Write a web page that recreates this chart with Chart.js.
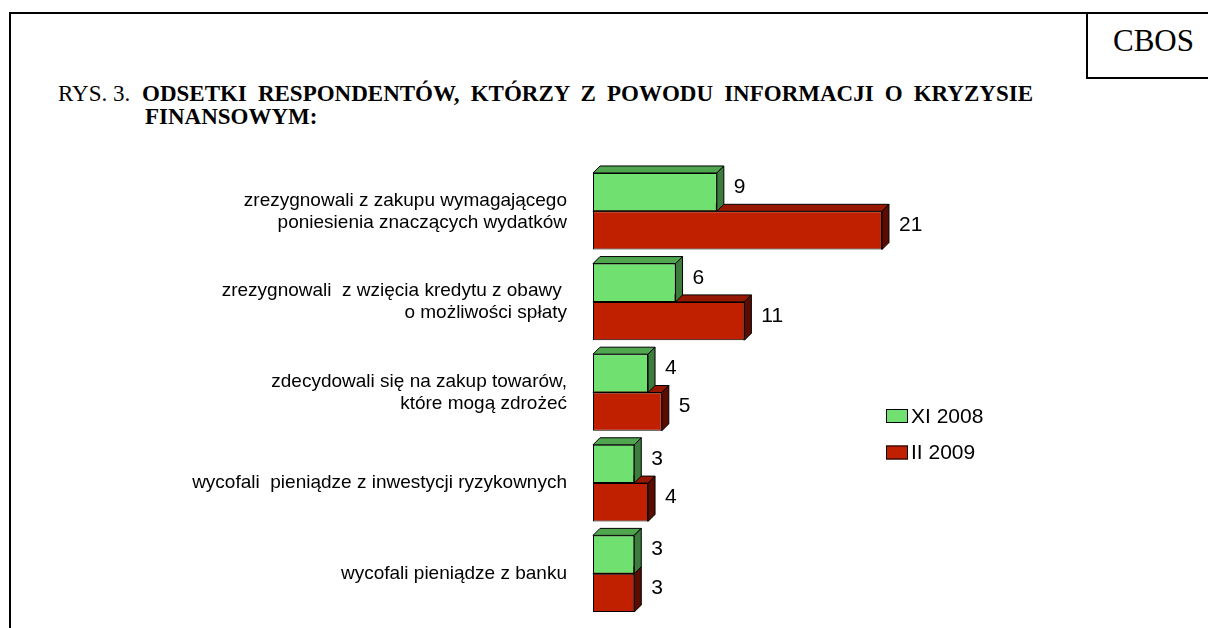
<!DOCTYPE html>
<html>
<head>
<meta charset="utf-8">
<script src="https://cdn.jsdelivr.net/npm/chart.js@4"></script>
<style>
  html, body { margin: 0; padding: 0; background: #fff; }
  body { width: 1208px; height: 628px; position: relative; overflow: hidden; }
  .frame-left { position: absolute; left: 9px; top: 12px; width: 2px; height: 616px; background: #000; }
  .frame-top { position: absolute; left: 9px; top: 12px; width: 1199px; height: 2px; background: #000; }
  .cbos { position: absolute; left: 1086px; top: 12px; width: 130px; height: 65px;
          border-left: 2px solid #000; border-bottom: 2px solid #000; }
  .cbos span { position: absolute; left: 25px; top: 14px; font: 31px/30px "Liberation Serif", serif; }
  .title { position: absolute; font: 23px/23px "Liberation Serif", serif; color: #000; white-space: nowrap; }
  .title b { font-weight: bold; }
  #rys { left: 58px; top: 82px; }
  #line1 { left: 142px; top: 82px; width: 891px; text-align: justify; text-align-last: justify; }
  #line2 { left: 145px; top: 105px; }
  #chart { position: absolute; left: 0; top: 0; }
</style>
</head>
<body>
<div class="frame-left"></div>
<div class="frame-top"></div>
<div class="cbos"><span>CBOS</span></div>
<div class="title" id="rys">RYS. 3.</div>
<div class="title" id="line1"><b>ODSETKI RESPONDENTÓW, KTÓRZY Z POWODU INFORMACJI O KRYZYSIE</b></div>
<div class="title" id="line2"><b>FINANSOWYM:</b></div>
<canvas id="chart" width="1208" height="628"></canvas>
<script>
const categories = [
  ["zrezygnowali z zakupu wymagającego", "poniesienia znaczących wydatków"],
  ["zrezygnowali  z wzięcia kredytu z obawy ", "o możliwości spłaty"],
  ["zdecydowali się na zakup towarów,", "które mogą zdrożeć"],
  "wycofali  pieniądze z inwestycji ryzykownych",
  "wycofali pieniądze z banku",
];
const seriesNames = ["XI 2008", "II 2009"];
const valuesNov2008 = [9, 6, 4, 3, 3];
const valuesFeb2009 = [21, 11, 5, 4, 3];

const DEPTH = 7;

// draws the top and side faces so the bars look like the 3D ones of the original
const bar3d = {
  id: "bar3d",
  afterDatasetDraw(chart, args) {
    const ds = chart.data.datasets[args.index];
    const ctx = chart.ctx;
    args.meta.data.forEach((bar) => {
      const left = bar.base;
      const right = bar.x;
      const top = bar.y - bar.height / 2;
      const bottom = bar.y + bar.height / 2;
      ctx.save();
      ctx.lineWidth = 1;
      ctx.strokeStyle = "#000";
      ctx.lineJoin = "round";

      ctx.beginPath();
      ctx.moveTo(left, top);
      ctx.lineTo(left + DEPTH, top - DEPTH);
      ctx.lineTo(right + DEPTH, top - DEPTH);
      ctx.lineTo(right, top);
      ctx.closePath();
      ctx.fillStyle = ds.topColor;
      ctx.fill();
      ctx.stroke();

      ctx.beginPath();
      ctx.moveTo(right, top);
      ctx.lineTo(right + DEPTH, top - DEPTH);
      ctx.lineTo(right + DEPTH, bottom - DEPTH);
      ctx.lineTo(right, bottom);
      ctx.closePath();
      ctx.fillStyle = ds.sideColor;
      ctx.fill();
      ctx.stroke();
      ctx.restore();
    });
  },
  afterDatasetsDraw(chart) {
    const ctx = chart.ctx;
    ctx.save();
    ctx.font = '21px "Liberation Sans", Arial, sans-serif';
    ctx.fillStyle = "#000";
    ctx.textAlign = "left";
    ctx.textBaseline = "middle";
    chart.data.datasets.forEach((ds, i) => {
      chart.getDatasetMeta(i).data.forEach((bar, j) => {
        ctx.fillText(String(ds.data[j]), bar.x + DEPTH + 10, bar.y - 5);
      });
    });
    ctx.restore();
  },
};

// legend drawn by hand, to the right of the bars
const sideLegend = {
  id: "sideLegend",
  afterDraw(chart) {
    const ctx = chart.ctx;
    ctx.save();
    ctx.font = '21px "Liberation Sans", Arial, sans-serif';
    ctx.textBaseline = "middle";
    chart.data.datasets.forEach((ds, i) => {
      const x = 886;
      const y = 409 + i * 36.5;
      ctx.fillStyle = ds.backgroundColor;
      ctx.fillRect(x, y, 22, 14);
      ctx.strokeStyle = "#000";
      ctx.lineWidth = 1;
      ctx.strokeRect(x + 0.5, y + 0.5, 21, 13);
      ctx.fillStyle = "#000";
      ctx.fillText(ds.label, x + 25, y + 8);
    });
    ctx.restore();
  },
};

const ctx = document.getElementById("chart").getContext("2d");

new Chart(ctx, {
  type: "bar",
  data: {
    labels: categories,
    datasets: [
      {
        label: seriesNames[0],
        data: valuesNov2008,
        backgroundColor: "#70e070",
        topColor: "#4fa64f",
        sideColor: "#3c7c3c",
        borderColor: "#000",
        borderWidth: 1,
        borderSkipped: false,
      },
      {
        label: seriesNames[1],
        data: valuesFeb2009,
        backgroundColor: "#c02000",
        topColor: "#971800",
        sideColor: "#5a0c00",
        borderColor: "#000",
        borderWidth: 1,
        borderSkipped: false,
      },
    ],
  },
  options: {
    indexAxis: "y",
    responsive: false,
    animation: false,
    categoryPercentage: 0.846,
    barPercentage: 1,
    layout: { padding: { top: 166, bottom: 9, left: 0, right: 271 } },
    scales: {
      x: {
        display: false,
        min: 0,
        max: 25,
      },
      y: {
        // fixed width, and no extra room reserved above/below for the labels
        afterFit: (scale) => {
          scale.width = 593;
          scale.paddingTop = 0;
          scale.paddingBottom = 0;
        },
        grid: { display: false, drawTicks: false },
        border: { display: false },
        ticks: {
          padding: 26,
          color: "#000",
          font: { family: '"Liberation Sans", Arial, sans-serif', size: 19, lineHeight: 1.16 },
        },
      },
    },
    plugins: {
      legend: { display: false },
      tooltip: { enabled: false },
    },
  },
  plugins: [bar3d, sideLegend],
});
</script>
</body>
</html>
